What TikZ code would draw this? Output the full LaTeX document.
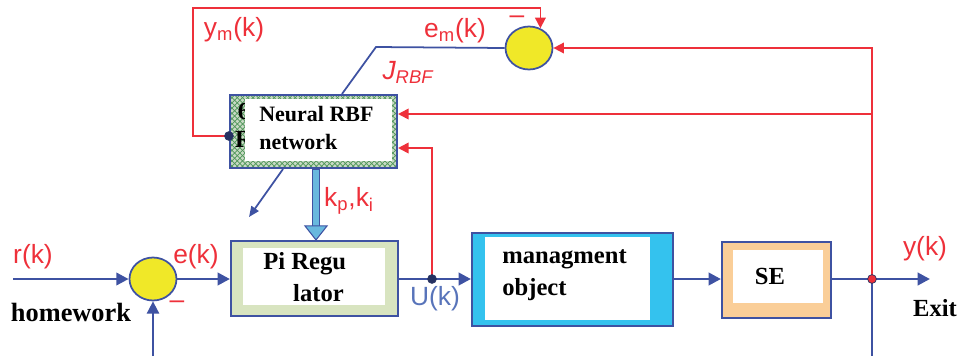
\documentclass[tikz,border=0pt]{standalone}
\usepackage{fontspec}
\setmainfont{Liberation Serif}
\newfontfamily\lblfont{Liberation Sans}
\usetikzlibrary{arrows.meta,shapes.geometric,patterns,calc}
\definecolor{lineblue}{RGB}{62,82,162}
\definecolor{sigred}{RGB}{238,48,58}
\definecolor{ublue}{RGB}{88,116,186}
\definecolor{sumyellow}{RGB}{240,232,40}
\definecolor{pifill}{RGB}{216,228,192}
\definecolor{objcyan}{RGB}{52,194,238}
\definecolor{sepeach}{RGB}{250,206,152}
\definecolor{kpblue}{RGB}{104,184,222}
\definecolor{hatchbg}{RGB}{200,218,196}
\definecolor{hatchgreen}{RGB}{80,150,90}
\tikzset{
  blueln/.style={draw=lineblue, line width=1.6pt},
  thinblue/.style={draw=lineblue, line width=1pt},
  redln/.style={draw=sigred, line width=1pt},
  bluetip/.style={-{Triangle[length=7pt,width=7pt]}},
  redtip/.style={-{Triangle[length=6pt,width=6pt]}},
  sumnode/.style={ellipse, draw=lineblue, line width=1pt, fill=sumyellow,
    minimum width=0.94cm, minimum height=0.86cm, inner sep=0pt},
  outerbox/.style={rectangle, draw=lineblue, line width=1.2pt, inner sep=0pt},
  innerbox/.style={rectangle, fill=white, inner sep=0pt},
  boxtxt/.style={font=\fontsize{14}{18}\selectfont\bfseries, inner sep=0pt},
  sig/.style={font=\lblfont\fontsize{15}{17}\selectfont, text=sigred, inner sep=0pt},
  jdot/.style={circle, draw=lineblue!60!black, fill=lineblue!60!black,
    minimum size=5pt, inner sep=0pt}
}
\begin{document}
\begin{tikzpicture}[x=0.02cm,y=-0.02cm]
  \useasboundingbox (0,0) rectangle (960,356);
      %%sums
      \node[sumnode] (sumb) at (153,279) {};
      \node[sumnode] (sumt) at (529,48) {};
      %%neural RBF network
      \node[outerbox, preaction={fill=hatchbg}, pattern=crosshatch,
        pattern color=hatchgreen, minimum width=3.34cm, minimum height=1.46cm]
        (rbf) at (313.5,131.5) {};
        \node[boxtxt] (rbfsix) at (244,111) {6};
        \node[boxtxt] (rbfr) at (244,139) {R};
      \node[innerbox, minimum width=2.94cm, minimum height=1.24cm] (rbfin) at (318.5,130) {};
        \node[boxtxt, font=\fontsize{12.5}{16}\selectfont\bfseries, align=left, anchor=west]
          (rbftxt) at (259,128) {Neural RBF\\network};
      %%PI regulator
      \node[outerbox, fill=pifill, minimum width=3.34cm, minimum height=1.5cm] (pi) at (314.5,278.5) {};
      \node[innerbox, minimum width=2.84cm, minimum height=1.14cm] (piin) at (314,276.5) {};
        \node[boxtxt, align=left, anchor=west] (pitxt) at (263,277) {Pi Regu\\\hspace*{17pt}lator};
      %%managment object
      \node[outerbox, fill=objcyan, minimum width=4.02cm, minimum height=1.86cm] (obj) at (572.5,279.5) {};
      \node[innerbox, minimum width=3.3cm, minimum height=1.66cm] (objin) at (567.5,278.5) {};
        \node[boxtxt, align=left, anchor=west] (objtxt) at (502,275) {managment\\object};
      %%SE
      \node[outerbox, fill=sepeach, minimum width=2.18cm, minimum height=1.52cm] (se) at (776.5,280) {};
      \node[innerbox, minimum width=1.8cm, minimum height=1.06cm] (sein) at (778,276.5) {};
        \node[boxtxt] (setxt) at (770,276) {SE};

      %%free ends
      \coordinate (rin) at (13,279);
      \coordinate (fbin) at (153,356);
      \coordinate (uj) at (432,279);
      \coordinate (yj) at (872,279);
      \coordinate (yout) at (930,279);
      \coordinate (ybot) at (872,356);
      \coordinate (rbfr1) at (872,114);
      \coordinate (rbfin1) at (rbf.east |- 0,114);
      \coordinate (rbfin2) at (rbf.east |- 0,148);
      \coordinate (ymdot) at (rbf.west |- 0,136);
      \coordinate (ymcorner) at (193,8);
      \coordinate (jbend) at (376,47);
      \coordinate (jtop) at (rbf.north -| 342,0);
      \coordinate (dout) at (rbf.south -| 283,0);
      \coordinate (dend) at (249,217);
      \coordinate (kptop) at (rbf.south -| 316,0);
      \coordinate (kpbot) at (pi.north -| 316,0);

      %%main loop
      \draw[blueln, bluetip] (rin) -- (sumb.west);
      \draw[blueln, bluetip] (sumb.east) -- (pi.west |- sumb.east);
      \draw[thinblue, bluetip] (fbin) -- (sumb.south);
      \draw[blueln] (pi.east |- uj) -- (uj);
      \draw[blueln, bluetip] (uj) -- (obj.west |- uj);
      \draw[blueln, bluetip] (obj.east |- uj) -- (se.west |- uj);
      \draw[blueln, bluetip] (se.east |- yj) -- (yout);
      \draw[thinblue] (yj) -- (ybot);
      %%red feedback
      \draw[redln, redtip] (yj) |- (sumt.east);
      \draw[redln, redtip] (rbfr1) -- (rbfin1);
      \draw[redln, redtip] (uj) |- (rbfin2);
      \draw[redln, redtip] (ymdot) -| (ymcorner) -| (sumt.60);
      %%J_RBF line
      \draw[thinblue] (sumt.west) -- (jbend) -- (jtop);
      \draw[thinblue, -{Triangle[length=6pt,width=5pt]}] (dout) -- (dend);
      %%kp,ki arrow
      \draw[draw=lineblue, line width=4.6pt] (kptop) -- ($(kpbot)+(0,-11)$);
      \draw[draw=kpblue, line width=3pt] ($(kptop)+(0,1)$) -- ($(kpbot)+(0,-11)$);
      \filldraw[fill=kpblue, draw=lineblue, line width=.6pt]
        ($(kpbot)+(-11,-14)$) -- ($(kpbot)+(11,-14)$) -- (kpbot) -- cycle;

      %%dots
      \node[jdot] (ymd) at (ymdot) {};
      \node[jdot] (ujd) at (uj) {};
      \node[jdot, fill=sigred] (yjd) at (yj) {};

      %%labels
      \node[sig] (rk) at (33,257) {r(k)};
      \node[sig] (ek) at (196,257) {e(k)};
      \node[sig] (minb) at (177,305) {\textendash};
      \node[boxtxt, font=\fontsize{15}{18}\selectfont\bfseries] (home) at (71,312) {homework};
      \node[sig, text=ublue] (uk) at (435,299) {U(k)};
      \node[sig] (yk) at (925,249) {y(k)};
      \node[boxtxt] (exit) at (935,308) {Exit};
      \node[sig] (ymk) at (234,30) {y\textsubscript{m}(k)};
      \node[sig] (emk) at (455,31) {e\textsubscript{m}(k)};
      \node[sig] (mint) at (517,20) {\textendash};
      \node[sig, font=\lblfont\itshape\fontsize{15}{17}\selectfont] (jrbf) at (408,72) {J\textsubscript{RBF}};
      \node[sig] (kpki) at (349,201) {k\textsubscript{p},k\textsubscript{i}};
\end{tikzpicture}
\end{document}
